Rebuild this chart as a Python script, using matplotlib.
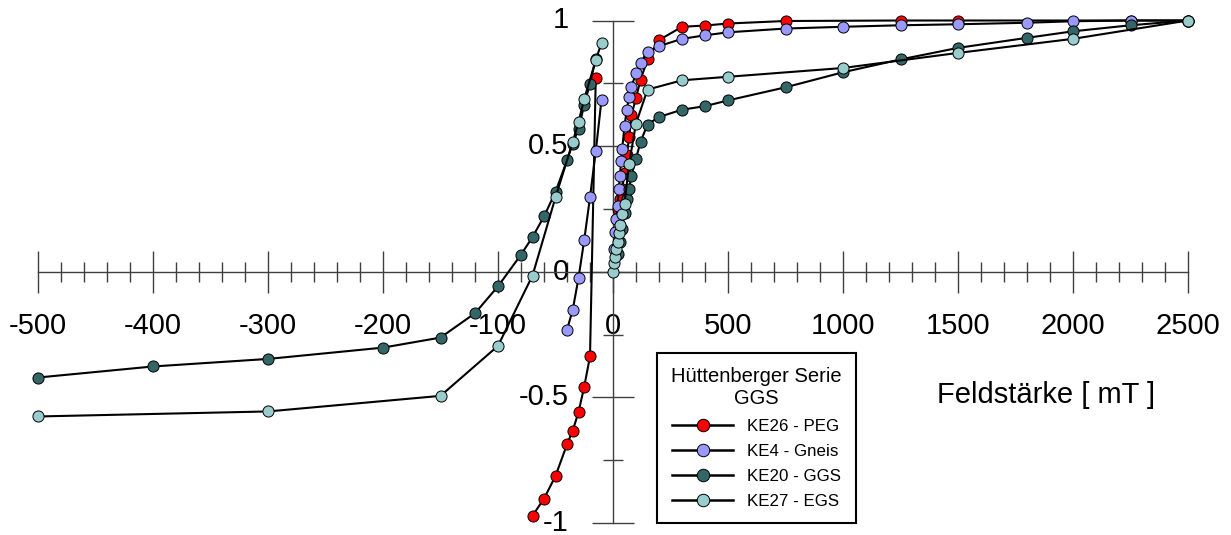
import numpy as np
import matplotlib
matplotlib.use('Agg')
import matplotlib.pyplot as plt
from matplotlib.ticker import FixedLocator, FixedFormatter
from matplotlib.lines import Line2D

plt.rcParams['font.family'] = ['Liberation Sans', 'DejaVu Sans']

# ---------------- data ----------------
labels = ['KE26 - PEG', 'KE4 - Gneis', 'KE20 - GGS', 'KE27 - EGS']
colors = ['#FF0000', '#9999FF', '#336666', '#99CCCC']
legend_title = 'Hüttenberger Serie\nGGS'
x_label = 'Feldstärke [ mT ]'

# IRM acquisition (positive field)
ke26_pos_x = [20, 30, 40, 50, 60, 70, 80, 100, 120, 150, 200, 300, 400, 500, 750, 1250, 1500, 2250, 2500]
ke26_pos_y = [0.25, 0.29, 0.33, 0.393, 0.466, 0.535, 0.622, 0.692, 0.765, 0.845, 0.922, 0.975, 0.98, 0.988, 0.998, 1.0, 1.0, 1.0, 1.0]

ke4_pos_x = [5, 10, 15, 20, 25, 30, 35, 40, 50, 60, 70, 80, 100, 120, 150, 200, 300, 400, 500, 750, 1000, 1250, 1500, 1800, 2000, 2250, 2500]
ke4_pos_y = [0.09, 0.16, 0.21, 0.26, 0.33, 0.38, 0.44, 0.49, 0.58, 0.645, 0.696, 0.736, 0.79, 0.831, 0.875, 0.898, 0.927, 0.941, 0.953, 0.968, 0.975, 0.981, 0.985, 0.991, 0.997, 1.0, 1.0]

ke20_pos_x = [20, 30, 40, 50, 60, 70, 80, 100, 120, 150, 200, 300, 400, 500, 750, 1000, 1250, 1500, 1800, 2000, 2250, 2500]
ke20_pos_y = [0.07, 0.12, 0.17, 0.235, 0.29, 0.33, 0.38, 0.45, 0.518, 0.586, 0.616, 0.645, 0.659, 0.682, 0.734, 0.794, 0.845, 0.891, 0.931, 0.957, 0.981, 1.0]

ke27_pos_x = [0, 5, 10, 15, 20, 25, 30, 40, 50, 70, 100, 150, 300, 500, 1000, 1500, 2000, 2500]
ke27_pos_y = [0.0, 0.035, 0.06, 0.09, 0.12, 0.155, 0.185, 0.23, 0.27, 0.43, 0.59, 0.725, 0.762, 0.776, 0.811, 0.871, 0.927, 1.0]

# back-field (negative field)
ke26_neg_x = [-15, -20, -25, -30, -35, -40, -50, -60, -70]
ke26_neg_y = [0.77, -0.337, -0.457, -0.559, -0.632, -0.687, -0.813, -0.903, -0.971]

ke4_neg_x = [-10, -15, -20, -25, -30, -35, -40]
ke4_neg_y = [0.685, 0.479, 0.296, 0.127, -0.025, -0.151, -0.231]

ke20_neg_x = [-15, -20, -25, -30, -35, -40, -50, -60, -70, -80, -100, -120, -150, -200, -300, -400, -500]
ke20_neg_y = [0.847, 0.749, 0.665, 0.568, 0.51, 0.443, 0.318, 0.22, 0.138, 0.068, -0.058, -0.165, -0.262, -0.302, -0.347, -0.377, -0.421]

ke27_neg_x = [-10, -15, -25, -30, -35, -50, -70, -100, -150, -300, -500]
ke27_neg_y = [0.911, 0.842, 0.688, 0.596, 0.517, 0.296, -0.015, -0.295, -0.494, -0.556, -0.576]

x_major = [-500, -400, -300, -200, -100, 0, 500, 1000, 1500, 2000, 2500]
x_major_labels = ['-500', '-400', '-300', '-200', '-100', '0', '500', '1000', '1500', '2000', '2500']
y_major = [-1, -0.5, 0, 0.5, 1]
y_major_labels = ['-1', '-0.5', '0', '0.5', '1']

# ---------------- axis scale: negative side stretched ----------------
def fwd(x):
    x = np.asarray(x, dtype=float)
    return np.where(x < 0, x * 5.0, x)

def inv(u):
    u = np.asarray(u, dtype=float)
    return np.where(u < 0, u / 5.0, u)

W, H = 1231, 535
fig = plt.figure(figsize=(W / 100, H / 100), dpi=100)
ax = fig.add_axes([38 / W, 12 / H, 1150 / W, 502.5 / H])
ax.set_xscale('function', functions=(fwd, inv))
ax.set_xlim(-500, 2500)
ax.set_ylim(-1, 1)

pos = [(ke26_pos_x, ke26_pos_y), (ke4_pos_x, ke4_pos_y), (ke20_pos_x, ke20_pos_y), (ke27_pos_x, ke27_pos_y)]
neg = [(ke26_neg_x, ke26_neg_y), (ke4_neg_x, ke4_neg_y), (ke20_neg_x, ke20_neg_y), (ke27_neg_x, ke27_neg_y)]

style = dict(color='black', lw=1.5, marker='o', ms=8, mec='black', mew=0.7, clip_on=False)
for i, ((px, py), (nx, ny)) in enumerate(zip(pos, neg)):
    ax.plot(px, py, mfc=colors[i], zorder=3 + i, **style)
    ax.plot(nx, ny, mfc=colors[i], zorder=3 + i, **style)

# spines through the origin
for s in ['top', 'right']:
    ax.spines[s].set_visible(False)
ax.spines['left'].set_position(('data', 0))
ax.spines['bottom'].set_position(('data', 0))
for s in ['left', 'bottom']:
    ax.spines[s].set_color('#404040')
    ax.spines[s].set_linewidth(1.0)

ax.xaxis.set_major_locator(FixedLocator(x_major))
ax.xaxis.set_major_formatter(FixedFormatter(x_major_labels))
x_minor = list(range(-480, 0, 20)) + list(range(100, 2500, 100))
x_minor = [v for v in x_minor if v not in x_major]
ax.xaxis.set_minor_locator(FixedLocator(x_minor))
ax.yaxis.set_major_locator(FixedLocator(y_major))
ax.yaxis.set_major_formatter(FixedFormatter(y_major_labels))
ax.yaxis.set_minor_locator(FixedLocator([-0.75, -0.25, 0.25, 0.75]))

ax.tick_params(which='major', direction='inout', length=30, width=1.0, color='#404040', labelsize=21)
ax.tick_params(which='minor', direction='inout', length=15, width=1.0, color='#404040')
ax.tick_params(axis='x', which='major', pad=14)
ax.tick_params(axis='y', which='major', pad=17)
for t in ax.get_yticklabels():
    t.set_va('center')

# legend
handles = [Line2D([], [], color='black', lw=1.8, marker='o', ms=9, mfc=c, mec='black', mew=0.7) for c in colors]
leg = ax.legend(handles, labels, title=legend_title, loc='upper left',
                bbox_to_anchor=(657 / W, 1 - 353 / H), bbox_transform=fig.transFigure,
                fontsize=12.2, title_fontsize=14.5, frameon=True, fancybox=False,
                edgecolor='black', framealpha=1, handlelength=3.6, handletextpad=0.8,
                borderpad=0.85, labelspacing=0.6, borderaxespad=0)
leg.get_frame().set_linewidth(1.5)
leg.get_title().set_multialignment('center')
leg.set_zorder(20)

fig.text(937 / W, 1 - 395 / H, x_label, fontsize=21, va='center', ha='left')

fig.savefig('out.png', dpi=100)
